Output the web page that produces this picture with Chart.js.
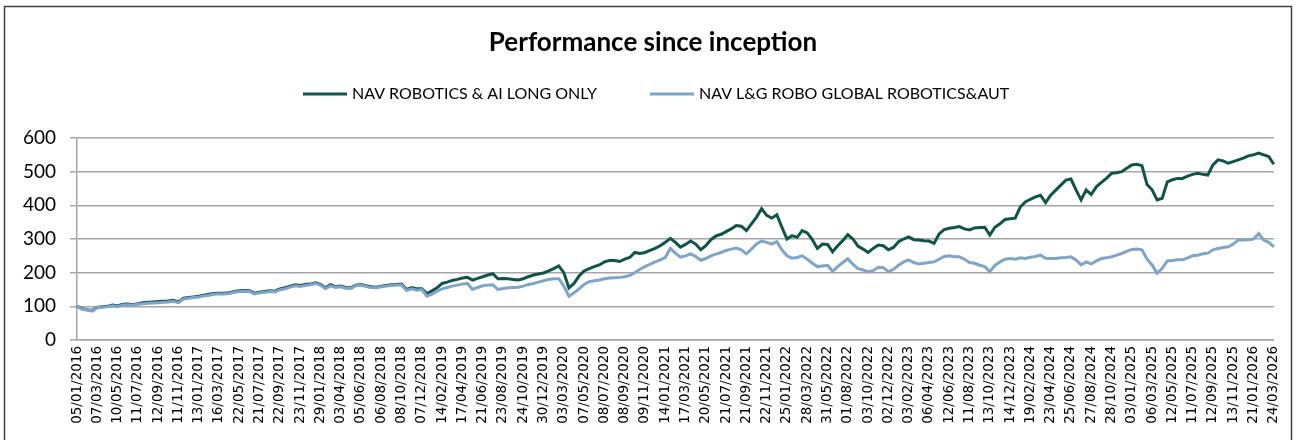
<!DOCTYPE html>
<html>
<head>
<meta charset="utf-8">
<title>Performance since inception</title>
<script src="https://cdn.jsdelivr.net/npm/chart.js@4.4.1/dist/chart.umd.min.js"></script>
<style>
  html, body { margin: 0; padding: 0; background: #fff; }
  #wrap { position: relative; width: 1296px; height: 440px; }
</style>
</head>
<body>
<div id="wrap"><canvas id="perfChart" width="1296" height="440"></canvas></div>
<script>
// axis dates shown under the chart (one every 4 points)
const tickDates = [
  '05/01/2016', '07/03/2016', '10/05/2016', '11/07/2016', '12/09/2016', '11/11/2016',
  '13/01/2017', '16/03/2017', '22/05/2017', '21/07/2017', '22/09/2017', '23/11/2017',
  '29/01/2018', '03/04/2018', '05/06/2018', '06/08/2018', '08/10/2018', '07/12/2018',
  '14/02/2019', '17/04/2019', '21/06/2019', '23/08/2019', '24/10/2019', '30/12/2019',
  '03/03/2020', '07/05/2020', '08/07/2020', '08/09/2020', '09/11/2020', '14/01/2021',
  '17/03/2021', '20/05/2021', '21/07/2021', '21/09/2021', '22/11/2021', '25/01/2022',
  '28/03/2022', '31/05/2022', '01/08/2022', '03/10/2022', '02/12/2022', '03/02/2023',
  '06/04/2023', '12/06/2023', '11/08/2023', '13/10/2023', '14/12/2023', '19/02/2024',
  '23/04/2024', '25/06/2024', '27/08/2024', '28/10/2024', '03/01/2025', '06/03/2025',
  '12/05/2025', '11/07/2025', '12/09/2025', '13/11/2025', '21/01/2026', '24/03/2026'
];
const POINTS_PER_TICK = 4;

// NAV ROBOTICS & AI LONG ONLY
const navRoboticsAI = [
  100, 93, 90, 88,   97, 99, 100, 104,   101, 106, 107, 105,   108, 111, 112, 113,
  114, 115, 116, 118,   113, 124, 126, 128,   130, 133, 136, 138,   139, 139, 140, 144,
  146, 147, 146, 139,   142, 144, 146, 145,   152, 155, 160, 164,   162, 165, 166, 170,
  165, 155, 164, 158,   160, 156, 155, 163,   165, 161, 158, 157,   160, 162, 164, 165,
  166, 150, 156, 152,   152, 138, 146, 155,   168, 172, 177, 180,   184, 186, 178, 183,
  188, 193, 197, 182,   183, 182, 180, 178,   182, 188, 193, 196,   199, 205, 212, 220,
  200, 155, 168, 190,   205, 212, 218, 223,   232, 236, 236, 233,   240, 245, 260, 257,
  260, 266, 272, 280,   290, 302, 290, 276,   284, 294, 285, 268,   280, 298, 309, 314,
  322, 330, 340, 338,   325, 345, 365, 390,   370, 362, 372, 335,   300, 310, 305, 325,
  318, 298, 272, 285,   284, 262, 280, 295,   313, 300, 279, 270,   260, 272, 282, 280,
  268, 275, 292, 300,   306, 298, 297, 295,   294, 287, 315, 328,   332, 334, 337, 330,
  327, 333, 334, 335,   312, 335, 345, 358,   360, 362, 395, 410,   418, 425, 430, 408,
  430, 445, 460, 475,   478, 446, 416, 446,   432, 455, 468, 480,   495, 497, 500, 510,
  520, 522, 518, 462,   446, 416, 421, 470,   476, 480, 480, 487,   492, 495, 492, 490,
  520, 535, 532, 525,   530, 535, 540, 547,   550, 555, 550, 545,   522
];

// NAV L&G ROBO GLOBAL ROBOTICS&AUT
const navLgRobo = [
  100, 92, 89, 86,   96, 98, 99, 102,   99, 104, 105, 103,   106, 108, 109, 110,
  111, 112, 113, 115,   111, 122, 124, 126,   128, 131, 133, 136,   137, 137, 138, 142,
  144, 145, 144, 137,   140, 142, 144, 143,   149, 152, 157, 161,   159, 162, 164, 168,
  163, 152, 161, 156,   158, 154, 153, 161,   163, 159, 156, 155,   158, 160, 162, 163,
  163, 147, 152, 148,   150, 130, 136, 145,   152, 156, 160, 163,   166, 168, 150, 156,
  161, 163, 164, 150,   153, 155, 156, 157,   160, 165, 168, 172,   176, 180, 182, 182,
  160, 130, 140, 152,   165, 173, 176, 178,   182, 184, 185, 186,   188, 192, 200, 210,
  218, 225, 232, 238,   245, 272, 258, 246,   250, 256, 248, 237,   242, 250, 255, 260,
  266, 270, 273, 268,   256, 270, 285, 294,   290, 285, 292, 268,   250, 243, 245, 250,
  240, 228, 218, 220,   222, 204, 218, 230,   241, 225, 212, 208,   203, 206, 216, 215,
  203, 210, 222, 232,   238, 230, 226, 228,   230, 232, 240, 248,   250, 247, 247, 240,
  230, 228, 222, 218,   203, 222, 232, 240,   242, 240, 244, 242,   246, 248, 252, 243,
  242, 242, 244, 245,   247, 238, 223, 232,   226, 235, 242, 244,   247, 252, 257, 263,
  269, 270, 268, 240,   223, 198, 213, 235,   236, 238, 238, 244,   250, 252, 256, 258,
  268, 272, 275, 277,   285, 297, 297, 298,   300, 316, 297, 290,   277
];

const seriesNames = ['NAV ROBOTICS & AI LONG ONLY', 'NAV L&G ROBO GLOBAL ROBOTICS&AUT'];
const seriesColors = ['#0f5448', '#7fa4ca'];

// one label per point, only every 4th one is a date
const labels = [];
tickDates.forEach((d, i) => {
    labels.push(d);
    if (i < tickDates.length - 1) {
        for (let k = 1; k < POINTS_PER_TICK; k++) labels.push('');
    }
});

// frame, title and legend drawn at fixed spots like the excel export
const headerPlugin = {
    id: 'header',
    afterDraw(chart) {
        const ctx = chart.ctx;
        ctx.save();
        ctx.strokeStyle = '#404040';
        ctx.lineWidth = 1.5;
        ctx.strokeRect(4.5, 6.5, 1287, 440);

        ctx.fillStyle = '#000';
        ctx.font = 'bold 26px Lato';
        ctx.textAlign = 'center';
        ctx.textBaseline = 'middle';
        ctx.fillText('Performance since inception', 653, 43);

        const legendX = [303, 650];
        ctx.font = '16px Lato';
        ctx.textAlign = 'left';
        chart.data.datasets.forEach((ds, i) => {
            const x = legendX[i];
            ctx.strokeStyle = ds.borderColor;
            ctx.lineWidth = 3;
            ctx.beginPath();
            ctx.moveTo(x, 94);
            ctx.lineTo(x + 44, 94);
            ctx.stroke();
            ctx.fillStyle = '#000';
            ctx.fillText(ds.label, x + 49, 94);
        });
        ctx.restore();
    }
};

const ctx = document.getElementById('perfChart').getContext('2d');

new Chart(ctx, {
    type: 'line',
    data: {
        labels: labels,
        datasets: [
            {
                label: seriesNames[0],
                data: navRoboticsAI,
                borderColor: seriesColors[0],
                backgroundColor: seriesColors[0],
                borderWidth: 3,
                pointRadius: 0,
                tension: 0,
                order: 2
            },
            {
                label: seriesNames[1],
                data: navLgRobo,
                borderColor: seriesColors[1],
                backgroundColor: seriesColors[1],
                borderWidth: 3,
                pointRadius: 0,
                tension: 0,
                order: 1
            }
        ]
    },
    options: {
        responsive: false,
        animation: false,
        layout: { padding: { top: 138, right: 16, bottom: 0, left: 0 } },
        plugins: {
            legend: { display: false },
            title: { display: false },
            tooltip: { enabled: false }
        },
        scales: {
            x: {
                grid: { display: false, drawTicks: false },
                border: { display: true, color: '#a6a6a6', width: 1.5 },
                ticks: {
                    autoSkip: false,
                    minRotation: 90,
                    maxRotation: 90,
                    padding: 6,
                    color: '#000',
                    font: { family: 'DejaVu Sans', size: 13.5 }
                },
                afterFit: s => { s.height = 100; }
            },
            y: {
                min: 0,
                max: 600,
                ticks: {
                    stepSize: 100,
                    padding: 14,
                    color: '#000',
                    font: { family: 'Lato', size: 19 }
                },
                grid: { color: '#a6a6a6', lineWidth: 1.5, tickLength: 7 },
                border: { display: true, color: '#a6a6a6', width: 1.5 },
                afterFit: s => { s.width = 77; }
            }
        }
    },
    plugins: [headerPlugin]
});
</script>
</body>
</html>
